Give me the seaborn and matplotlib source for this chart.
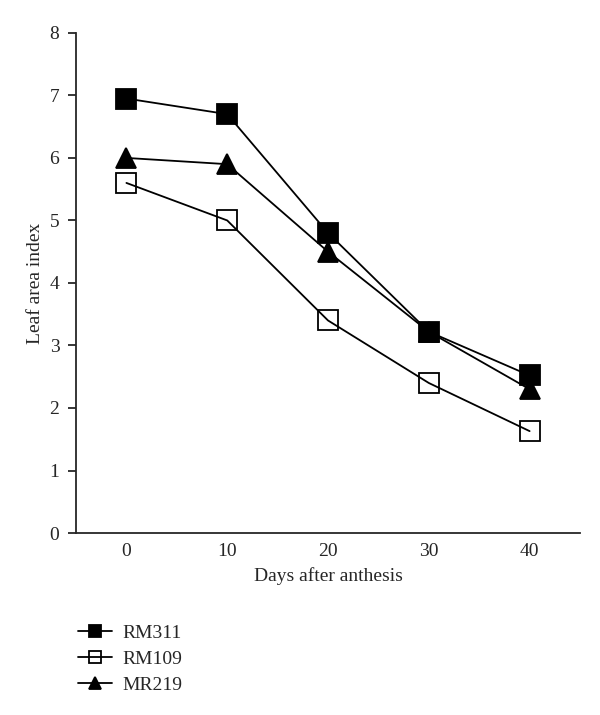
import matplotlib
matplotlib.use("Agg")
import matplotlib.pyplot as plt
import seaborn as sns
import pandas as pd

days = [0, 10, 20, 30, 40]
rm311 = [6.95, 6.7, 4.8, 3.22, 2.52]
rm109 = [5.6, 5.0, 3.4, 2.4, 1.63]
mr219 = [6.0, 5.9, 4.5, 3.22, 2.3]

sns.set_style("ticks")
plt.rcParams['font.family'] = ['Liberation Serif', 'DejaVu Serif']

fig = plt.figure(figsize=(6, 7.15), dpi=100)
ax = fig.add_axes([0.1267, 0.2545, 0.84, 0.6995])

series = [
    ('RM311', rm311, dict(marker='s', mfc='black')),
    ('RM109', rm109, dict(marker='s', mfc='none')),
    ('MR219', mr219, dict(marker='^', mfc='black')),
]
for name, vals, style in series:
    df = pd.DataFrame({'day': days, 'lai': vals})
    sns.lineplot(data=df, x='day', y='lai', ax=ax, color='black', lw=1.3,
                 markersize=14, mec='black', mew=1.3, label=name, **style)

ax.set_xlim(-5, 45)
ax.set_ylim(0, 8)
ax.set_xticks(days)
ax.set_yticks(range(0, 9))
ax.tick_params(axis='x', length=0, labelsize=14, pad=7)
ax.tick_params(axis='y', length=6, width=1.3, labelsize=14, pad=6)
for s in ['left', 'bottom']:
    ax.spines[s].set_linewidth(1.3)
sns.despine(ax=ax)
ax.set_xlabel('Days after anthesis', fontsize=14, labelpad=5)
ax.set_ylabel('Leaf area index', fontsize=14, labelpad=4)

handles, labels = ax.get_legend_handles_labels()
ax.get_legend().remove()
fig.legend(handles, labels, loc='upper left', bbox_to_anchor=(0.113, 0.141),
           frameon=False, fontsize=14, handlelength=1.75, handletextpad=0.57,
           labelspacing=0.45, borderpad=0, markerscale=0.66)

fig.savefig('out.png', dpi=100)
